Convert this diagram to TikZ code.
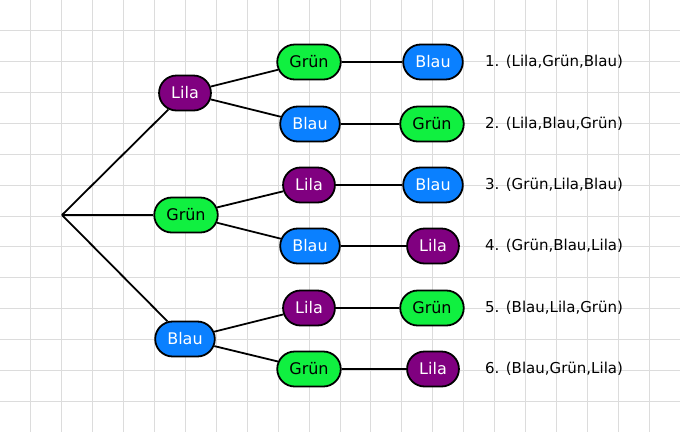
\documentclass[tikz,border=0pt]{standalone}
\usepackage{fontspec}
\setmainfont{DejaVu Sans}
\usetikzlibrary{shapes.misc}
\definecolor{lilaC}{RGB}{128,0,128}
\definecolor{gruenC}{RGB}{16,240,64}
\definecolor{blauC}{RGB}{10,128,255}
\definecolor{rasterC}{RGB}{220,220,220}
\tikzset{
  farbe/.style={rounded rectangle,draw=black,line width=1.8pt,minimum height=35pt,
    inner xsep=11pt,inner ysep=0pt,font=\fontsize{16}{19}\selectfont},
  klila/.style={farbe,fill=lilaC,text=white},
  kgruen/.style={farbe,fill=gruenC,text=black},
  kblau/.style={farbe,fill=blauC,text=white},
  kante/.style={line width=1.8pt},
  ergebnis/.style={anchor=west,inner sep=0pt,font=\fontsize{15}{18}\selectfont}
}
\begin{document}
\begin{tikzpicture}[x=1pt,y=-1pt]
\useasboundingbox (0,0) rectangle (680,432);
% raster
\foreach \i in {1,...,21} \draw[rasterC,line width=1pt] (\i*30.91,0)--(\i*30.91,432);
\foreach \j in {1,...,13} \draw[rasterC,line width=1pt] (0,\j*30.86)--(680,\j*30.86);
\coordinate (w) at (62,215);
% erste Stufe
\node[klila] (a) at (185,93) {Lila};
\node[kgruen] (b) at (186,215) {Grün};
\node[kblau] (c) at (185,339) {Blau};
% zweite Stufe
\node[kgruen] (ab) at (309,62) {Grün};
\node[kblau] (ac) at (310,124) {Blau};
\node[klila] (ba) at (309,185) {Lila};
\node[kblau] (bc) at (310,246) {Blau};
\node[klila] (ca) at (309,308) {Lila};
\node[kgruen] (cb) at (309,369) {Grün};
% dritte Stufe
\node[kblau] (abc) at (433,62) {Blau};
\node[kgruen] (acb) at (432,124) {Grün};
\node[kblau] (bac) at (433,185) {Blau};
\node[klila] (bca) at (433,246) {Lila};
\node[kgruen] (cab) at (432,308) {Grün};
\node[klila] (cba) at (433,369) {Lila};
% kanten
\foreach \s in {a,b,c} \draw[kante] (w)--(\s);
\draw[kante] (a)--(ab); \draw[kante] (a)--(ac);
\draw[kante] (b)--(ba); \draw[kante] (b)--(bc);
\draw[kante] (c)--(ca); \draw[kante] (c)--(cb);
\draw[kante] (ab)--(abc); \draw[kante] (ac)--(acb);
\draw[kante] (ba)--(bac); \draw[kante] (bc)--(bca);
\draw[kante] (ca)--(cab); \draw[kante] (cb)--(cba);
% ergebnisse
\node[ergebnis] (e1) at (485,62) {1. (Lila,Grün,Blau)};
\node[ergebnis] (e2) at (485,124) {2. (Lila,Blau,Grün)};
\node[ergebnis] (e3) at (485,185) {3. (Grün,Lila,Blau)};
\node[ergebnis] (e4) at (485,246) {4. (Grün,Blau,Lila)};
\node[ergebnis] (e5) at (485,308) {5. (Blau,Lila,Grün)};
\node[ergebnis] (e6) at (485,369) {6. (Blau,Grün,Lila)};
\end{tikzpicture}
\end{document}
